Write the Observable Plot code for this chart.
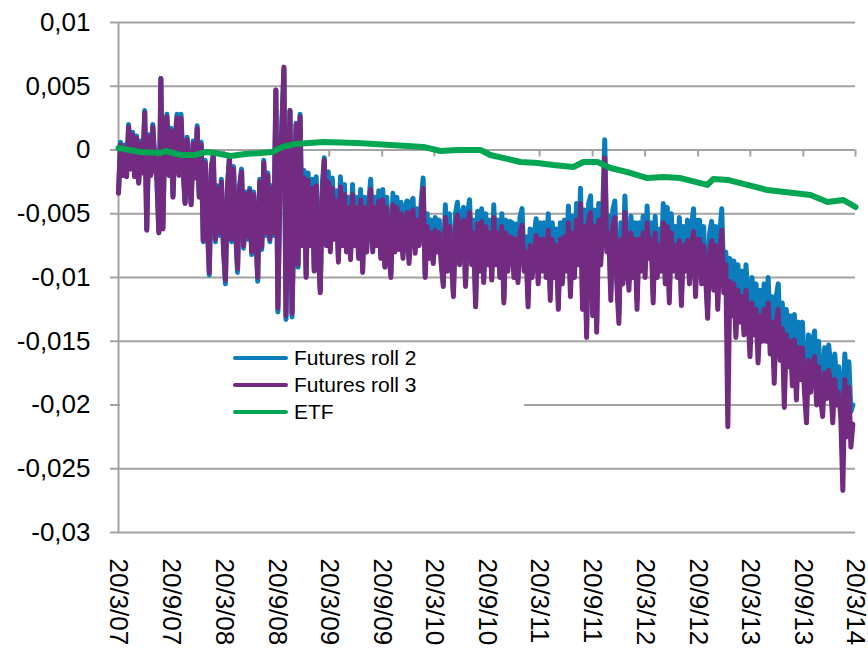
<!DOCTYPE html>
<html>
<head>
<meta charset="utf-8">
<script src="https://cdn.jsdelivr.net/npm/d3@7"></script>
<script src="https://cdn.jsdelivr.net/npm/@observablehq/plot@0.6"></script>
<style>
  html, body { margin: 0; padding: 0; background: #fff; }
  #wrap { position: relative; width: 868px; height: 648px; overflow: hidden; font-family: "Liberation Sans", Arial, sans-serif; }
  #legend { position: absolute; left: 120px; top: 345px; width: 404px; height: 82px; background: #fff; }
  .row { position: absolute; left: 113px; height: 26px; display: flex; align-items: center; font-size: 21px; color: #000; white-space: nowrap; }
  .sw { width: 55px; height: 4px; border-radius: 2px; margin-right: 6px; }
</style>
</head>
<body>
<div id="wrap"><div id="chart"></div><div id="legend"></div></div>
<script>
// ---- data ----
const seriesNames = ["Futures roll 2", "Futures roll 3", "ETF"];
const seriesColors = ["#0B7DBD", "#732B81", "#00A651"];

// futures sampled weekly starting 20/3/07
const futuresStart = "2007-03-20";
const futuresStepDays = 7;

const roll3 = [
  -0.0034, 0.0004, -0.0020, 0.0002, -0.0021, 0.0018, -0.0015, 0.0012, -0.0021, 0.0009,
  -0.0026, 0.0005, -0.0018, 0.0029, -0.0063, 0.0010, -0.0020, 0.0018, -0.0010, -0.0022,
  -0.0065, 0.0056, -0.0062, 0.0015, 0.0026, -0.0020, 0.0015, -0.0037, 0.0005, 0.0025,
  -0.0020, 0.0025, -0.0015, -0.0042, 0.0008, -0.0018, -0.0043, 0.0005, -0.0022, 0.0017,
  -0.0037, 0.0004, -0.0071, -0.0010, -0.0055, -0.0096, -0.0015, -0.0005, -0.0070, -0.0030,
  -0.0065, -0.0025, -0.0075, -0.0102, -0.0030, -0.0006, -0.0070, -0.0015, -0.0060, -0.0093,
  -0.0030, -0.0017, -0.0075, -0.0035, -0.0068, -0.0032, -0.0080, -0.0035, -0.0060, -0.0100,
  -0.0025, -0.0076, -0.0010, -0.0065, -0.0020, -0.0070, -0.0030, -0.0065, 0.0047, -0.0124,
  -0.0030, 0.0020, 0.0065, -0.0130, -0.0040, 0.0031, -0.0128, -0.0050, 0.0020, -0.0090,
  0.0026, -0.0075, -0.0022, -0.0100, -0.0024, -0.0075, -0.0030, -0.0095, -0.0028, -0.0080,
  -0.0112, -0.0035, -0.0008, -0.0075, -0.0025, -0.0080, -0.0030, -0.0070, -0.0040, -0.0088,
  -0.0029, -0.0075, -0.0035, -0.0080, -0.0045, -0.0086, -0.0035, -0.0075, -0.0045, -0.0085,
  -0.0039, -0.0096, -0.0045, -0.0080, -0.0050, -0.0031, -0.0080, -0.0045, -0.0075, -0.0040,
  -0.0085, -0.0039, -0.0092, -0.0045, -0.0080, -0.0100, -0.0043, -0.0080, -0.0045, -0.0078,
  -0.0050, -0.0085, -0.0055, -0.0049, -0.0089, -0.0050, -0.0047, -0.0081, -0.0055, -0.0075,
  -0.0050, -0.0030, -0.0100, -0.0060, -0.0085, -0.0065, -0.0089, -0.0063, -0.0080, -0.0065,
  -0.0090, -0.0107, -0.0053, -0.0095, -0.0060, -0.0085, -0.0115, -0.0060, -0.0051, -0.0090,
  -0.0060, -0.0055, -0.0107, -0.0060, -0.0049, -0.0090, -0.0065, -0.0123, -0.0058, -0.0095,
  -0.0056, -0.0104, -0.0060, -0.0090, -0.0065, -0.0102, -0.0053, -0.0090, -0.0065, -0.0100,
  -0.0060, -0.0120, -0.0065, -0.0095, -0.0068, -0.0069, -0.0100, -0.0070, -0.0104, -0.0065,
  -0.0059, -0.0095, -0.0080, -0.0123, -0.0075, -0.0100, -0.0080, -0.0067, -0.0105, -0.0070,
  -0.0095, -0.0070, -0.0100, -0.0063, -0.0118, -0.0070, -0.0100, -0.0075, -0.0125, -0.0070,
  -0.0105, -0.0068, -0.0095, -0.0057, -0.0115, -0.0065, -0.0100, -0.0055, -0.0090, -0.0042,
  -0.0125, -0.0060, -0.0147, -0.0055, -0.0049, -0.0130, -0.0060, -0.0143, -0.0055, -0.0090,
  -0.0060, -0.0006, -0.0080, -0.0065, -0.0118, -0.0060, -0.0053, -0.0105, -0.0136, -0.0070,
  -0.0105, -0.0049, -0.0090, -0.0110, -0.0065, -0.0100, -0.0070, -0.0125, -0.0070, -0.0095,
  -0.0065, -0.0100, -0.0057, -0.0085, -0.0070, -0.0120, -0.0065, -0.0100, -0.0075, -0.0095,
  -0.0057, -0.0105, -0.0060, -0.0120, -0.0065, -0.0095, -0.0075, -0.0100, -0.0071, -0.0122,
  -0.0075, -0.0095, -0.0071, -0.0105, -0.0075, -0.0064, -0.0115, -0.0070, -0.0070, -0.0105,
  -0.0075, -0.0100, -0.0132, -0.0080, -0.0071, -0.0110, -0.0075, -0.0125, -0.0080, -0.0063,
  -0.0112, -0.0090, -0.0217, -0.0103, -0.0130, -0.0105, -0.0147, -0.0110, -0.0135, -0.0115,
  -0.0145, -0.0110, -0.0130, -0.0162, -0.0120, -0.0145, -0.0125, -0.0167, -0.0130, -0.0150,
  -0.0125, -0.0150, -0.0120, -0.0160, -0.0135, -0.0183, -0.0135, -0.0125, -0.0165, -0.0140,
  -0.0202, -0.0145, -0.0170, -0.0150, -0.0185, -0.0149, -0.0196, -0.0155, -0.0180, -0.0155,
  -0.0190, -0.0214, -0.0165, -0.0190, -0.0170, -0.0162, -0.0200, -0.0170, -0.0195, -0.0209,
  -0.0175, -0.0195, -0.0173, -0.0185, -0.0214, -0.0180, -0.0200, -0.0190, -0.0210, -0.0267,
  -0.0180, -0.0225, -0.0186, -0.0233, -0.0215
];

const roll2 = [
  -0.0033, 0.0006, -0.0019, 0.0004, -0.0020, 0.0020, -0.0014, 0.0014, -0.0020, 0.0011,
  -0.0025, 0.0007, -0.0017, 0.0031, -0.0062, 0.0012, -0.0019, 0.0020, -0.0008, -0.0021,
  -0.0064, 0.0056, -0.0061, 0.0017, 0.0028, -0.0019, 0.0017, -0.0036, 0.0007, 0.0028,
  -0.0019, 0.0028, -0.0013, -0.0041, 0.0010, -0.0017, -0.0042, 0.0007, -0.0021, 0.0019,
  -0.0036, 0.0006, -0.0072, -0.0008, -0.0056, -0.0098, -0.0013, -0.0003, -0.0072, -0.0028,
  -0.0067, -0.0023, -0.0077, -0.0105, -0.0028, -0.0005, -0.0072, -0.0013, -0.0062, -0.0096,
  -0.0028, -0.0015, -0.0077, -0.0033, -0.0070, -0.0030, -0.0082, -0.0033, -0.0062, -0.0103,
  -0.0023, -0.0078, -0.0008, -0.0067, -0.0018, -0.0072, -0.0028, -0.0067, 0.0047, -0.0127,
  -0.0028, 0.0021, 0.0063, -0.0133, -0.0038, 0.0031, -0.0131, -0.0048, 0.0021, -0.0092,
  0.0028, -0.0073, -0.0016, -0.0098, -0.0018, -0.0072, -0.0023, -0.0093, -0.0021, -0.0077,
  -0.0110, -0.0028, -0.0006, -0.0072, -0.0017, -0.0077, -0.0022, -0.0067, -0.0032, -0.0085,
  -0.0021, -0.0072, -0.0027, -0.0077, -0.0037, -0.0083, -0.0027, -0.0072, -0.0037, -0.0082,
  -0.0031, -0.0093, -0.0037, -0.0077, -0.0042, -0.0023, -0.0077, -0.0037, -0.0072, -0.0032,
  -0.0082, -0.0031, -0.0089, -0.0037, -0.0077, -0.0097, -0.0034, -0.0077, -0.0037, -0.0075,
  -0.0041, -0.0082, -0.0046, -0.0040, -0.0086, -0.0041, -0.0038, -0.0078, -0.0046, -0.0072,
  -0.0041, -0.0022, -0.0097, -0.0050, -0.0082, -0.0055, -0.0086, -0.0053, -0.0077, -0.0055,
  -0.0087, -0.0104, -0.0043, -0.0092, -0.0050, -0.0082, -0.0112, -0.0050, -0.0041, -0.0087,
  -0.0050, -0.0045, -0.0104, -0.0050, -0.0039, -0.0087, -0.0055, -0.0120, -0.0048, -0.0092,
  -0.0046, -0.0101, -0.0050, -0.0087, -0.0055, -0.0099, -0.0043, -0.0087, -0.0055, -0.0097,
  -0.0050, -0.0117, -0.0055, -0.0092, -0.0056, -0.0057, -0.0097, -0.0058, -0.0101, -0.0053,
  -0.0046, -0.0088, -0.0068, -0.0116, -0.0062, -0.0093, -0.0067, -0.0054, -0.0098, -0.0057,
  -0.0088, -0.0057, -0.0093, -0.0050, -0.0111, -0.0057, -0.0093, -0.0062, -0.0118, -0.0057,
  -0.0098, -0.0055, -0.0088, -0.0044, -0.0108, -0.0052, -0.0093, -0.0042, -0.0083, -0.0030,
  -0.0118, -0.0047, -0.0140, -0.0042, -0.0036, -0.0123, -0.0047, -0.0136, -0.0042, -0.0083,
  -0.0047, 0.0008, -0.0073, -0.0052, -0.0111, -0.0047, -0.0040, -0.0098, -0.0129, -0.0057,
  -0.0098, -0.0036, -0.0083, -0.0103, -0.0052, -0.0093, -0.0057, -0.0118, -0.0057, -0.0088,
  -0.0052, -0.0093, -0.0044, -0.0078, -0.0057, -0.0113, -0.0052, -0.0093, -0.0062, -0.0088,
  -0.0042, -0.0098, -0.0045, -0.0113, -0.0050, -0.0088, -0.0060, -0.0093, -0.0053, -0.0115,
  -0.0060, -0.0088, -0.0055, -0.0098, -0.0060, -0.0046, -0.0108, -0.0055, -0.0055, -0.0098,
  -0.0060, -0.0093, -0.0125, -0.0065, -0.0056, -0.0103, -0.0060, -0.0118, -0.0065, -0.0046,
  -0.0105, -0.0080, -0.0115, -0.0085, -0.0115, -0.0087, -0.0132, -0.0090, -0.0120, -0.0095,
  -0.0130, -0.0090, -0.0115, -0.0147, -0.0100, -0.0130, -0.0105, -0.0152, -0.0110, -0.0135,
  -0.0105, -0.0135, -0.0100, -0.0145, -0.0115, -0.0168, -0.0115, -0.0105, -0.0150, -0.0120,
  -0.0187, -0.0125, -0.0155, -0.0130, -0.0170, -0.0129, -0.0181, -0.0135, -0.0165, -0.0135,
  -0.0175, -0.0199, -0.0145, -0.0175, -0.0150, -0.0142, -0.0185, -0.0150, -0.0180, -0.0194,
  -0.0155, -0.0180, -0.0153, -0.0170, -0.0199, -0.0160, -0.0185, -0.0170, -0.0195, -0.0205,
  -0.0160, -0.0195, -0.0166, -0.0205, -0.0200
];

const etfDates = [
  "2007-03-20", "2007-06-04", "2007-08-13", "2007-08-30", "2007-10-21", "2007-12-12",
  "2008-01-16", "2008-02-19", "2008-04-12", "2008-06-03", "2008-07-25", "2008-09-04",
  "2008-10-09", "2008-11-23", "2009-02-28", "2009-06-26", "2009-10-19", "2010-02-10",
  "2010-04-10", "2010-06-08", "2010-08-27", "2010-09-30", "2011-01-13", "2011-03-13",
  "2011-05-07", "2011-07-15", "2011-08-19", "2011-10-07", "2011-11-21", "2012-01-19",
  "2012-03-28", "2012-05-23", "2012-07-21", "2012-10-22", "2012-11-12", "2012-12-31",
  "2013-03-10", "2013-05-18", "2013-08-17", "2013-10-15", "2013-12-13", "2014-02-06",
  "2014-03-20"
];
const etfValues = [
  0.00016, -0.00016, -0.00024, -0.00008, -0.00039, -0.00039,
  -0.00016, -0.00024, -0.00047, -0.00031, -0.00024, -0.00016,
  0.00024, 0.00047, 0.00063, 0.00055, 0.00039, 0.00024,
  -0.00008, 0.00000, 0.00000, -0.00039, -0.00094, -0.00102,
  -0.00118, -0.00133, -0.00094, -0.00094, -0.00141, -0.00173,
  -0.00220, -0.00212, -0.00220, -0.00274, -0.00227, -0.00235,
  -0.00274, -0.00314, -0.00337, -0.00353, -0.00408, -0.00392,
  -0.00447
];

const yTicks = [0.01, 0.005, 0, -0.005, -0.01, -0.015, -0.02, -0.025, -0.03];
const xTickDates = [
  "2007-03-20", "2007-09-20", "2008-03-20", "2008-09-20", "2009-03-20", "2009-09-20",
  "2010-03-20", "2010-09-20", "2011-03-20", "2011-09-20", "2012-03-20", "2012-09-20",
  "2013-03-20", "2013-09-20", "2014-03-20"
];

// ---- build tables ----
const parse = d3.utcParse("%Y-%m-%d");
const t0 = parse(futuresStart);
const futDates = roll3.map((_, i) => d3.utcDay.offset(t0, i * futuresStepDays));
const roll2Data = roll2.map((v, i) => ({date: futDates[i], value: v}));
const roll3Data = roll3.map((v, i) => ({date: futDates[i], value: v}));
const etfData = etfDates.map((d, i) => ({date: parse(d), value: etfValues[i]}));
const xTicks = xTickDates.map(parse);

const grid = "#a3a3a3";
const yFmt = d => d === 0 ? "0" : String(d).replace(".", ",");
const xFmt = d3.utcFormat("%-d/%-m/%y");
const lineStyle = {x: "date", y: "value", strokeWidth: 5, strokeLinejoin: "round", strokeLinecap: "round"};

const chart = Plot.plot({
  width: 868,
  height: 648,
  marginLeft: 118,
  marginRight: 13,
  marginTop: 22,
  marginBottom: 116,
  style: {fontFamily: "'Liberation Sans', Arial, sans-serif", background: "#fff", overflow: "visible"},
  x: {type: "utc", domain: [xTicks[0], xTicks[xTicks.length - 1]], label: null},
  y: {domain: [-0.03, 0.01], label: null},
  marks: [
    Plot.ruleY(yTicks, {stroke: grid, strokeWidth: 2, insetLeft: -8}),
    Plot.ruleX([xTicks[0]], {stroke: grid, strokeWidth: 2}),
    Plot.ruleX(xTicks, {x: d => d, y1: 0, y2: 0, insetBottom: -7, stroke: grid, strokeWidth: 2}),
    Plot.line(roll2Data, {...lineStyle, stroke: seriesColors[0]}),
    Plot.line(roll3Data, {...lineStyle, stroke: seriesColors[1]}),
    Plot.line(etfData, {...lineStyle, stroke: seriesColors[2], strokeWidth: 6}),
    Plot.axisY({ticks: yTicks, tickFormat: yFmt, tickSize: 0, tickPadding: 28, fontSize: 26, fill: "#000", label: null}),
    Plot.axisX({ticks: xTicks, tickFormat: xFmt, tickSize: 0, tickPadding: 26, tickRotate: 90, fontSize: 26, fill: "#000", label: null})
  ]
});
document.getElementById("chart").appendChild(chart);

// legend (inside the plot area, white box)
const legend = document.getElementById("legend");
seriesNames.forEach((name, i) => {
  const row = document.createElement("div");
  row.className = "row";
  row.style.top = (i * 27) + "px";
  const sw = document.createElement("div");
  sw.className = "sw";
  sw.style.background = seriesColors[i];
  const tx = document.createElement("span");
  tx.textContent = name;
  row.appendChild(sw);
  row.appendChild(tx);
  legend.appendChild(row);
});
</script>
</body>
</html>
